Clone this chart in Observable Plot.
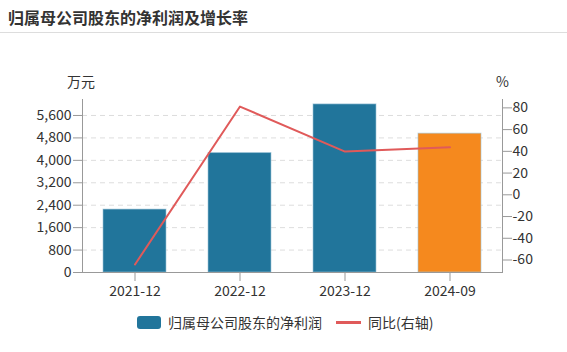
<!DOCTYPE html>
<html><head><meta charset="utf-8">
<script src="https://cdn.jsdelivr.net/npm/d3@7"></script>
<script src="https://cdn.jsdelivr.net/npm/@observablehq/plot@0.6"></script>
<style>
body{margin:0;background:#fff;font-family:"Noto Sans CJK SC","Noto Sans",sans-serif;}
#wrap{position:relative;width:567px;height:352px;overflow:hidden;color:#333}
#title{position:absolute;left:8px;top:5px;font-size:16px;font-weight:bold;color:#333;white-space:nowrap;line-height:24px}
#sep{position:absolute;left:0;top:32px;width:567px;height:1px;background:#ddd}
.unit{position:absolute;top:72px;font-size:14px;color:#333;line-height:18px;white-space:nowrap}
#legend{position:absolute;top:313px;left:137px;font-size:14px;color:#333;display:flex;align-items:center;white-space:nowrap;line-height:18px}
.sw{display:inline-block;width:24px;height:13px;border-radius:3px;margin-right:7px}
.ln{display:inline-block;width:25px;height:3px;margin-left:14px;margin-right:7px}
#chart{position:absolute;left:0;top:0}
</style></head>
<body><div id="wrap">
<div id="chart"></div>
<div id="title">归属母公司股东的净利润及增长率</div>
<div id="sep"></div>
<div class="unit" id="u1" style="left:67px">万元</div>
<div class="unit" id="u2" style="left:496px">%</div>
<div id="legend"><span class="sw" style="background:#21759b"></span><span>归属母公司股东的净利润</span><span class="ln" style="background:#e05a5a"></span><span>同比(右轴)</span></div>
</div>
<script>
const categories = ["2021-12", "2022-12", "2023-12", "2024-09"];
const profit = [2244, 4260, 5995, 4951];
const growth = [-64.1, 81.2, 39.8, 43.8];
const barColors = ["#21759b", "#21759b", "#21759b", "#f5891e"];
const leftTicks = [0, 800, 1600, 2400, 3200, 4000, 4800, 5600];
const rightTicks = [-60, -40, -20, 0, 20, 40, 60, 80];

const yMax = 6170, pMin = -71.5, pMax = 87.7;
const toLeft = p => (p - pMin) / (pMax - pMin) * yMax;
const fromLeft = v => v / yMax * (pMax - pMin) + pMin;

const data = categories.map((c, i) => ({cat: c, profit: profit[i], growth: growth[i], color: barColors[i]}));

const chart = Plot.plot({
  width: 567, height: 352,
  marginLeft: 82, marginRight: 65, marginTop: 99, marginBottom: 80,
  style: {fontFamily: '"Noto Sans CJK SC","Noto Sans",sans-serif', color: "#333", background: "transparent"},
  x: {domain: categories, paddingInner: 0.4, paddingOuter: 0.2, label: null},
  y: {domain: [0, yMax], label: null},
  marks: [
    Plot.gridY(leftTicks.slice(1), {stroke: "#ddd", strokeOpacity: 1, strokeDasharray: "5,4"}),
    Plot.barY(data, {x: "cat", y: "profit", fill: "color", stroke: "#9cc4d8", strokeWidth: 1, strokeOpacity: 0.6}),
    Plot.line(data, {x: "cat", y: d => toLeft(d.growth), stroke: "#e05a5a", strokeWidth: 2}),
    Plot.frame({anchor: "left", stroke: "#999"}),
    Plot.frame({anchor: "right", stroke: "#999"}),
    Plot.frame({anchor: "bottom", stroke: "#999"}),
    Plot.axisY(leftTicks, {anchor: "left", tickSize: 9, tickPadding: 2, fontSize: 14, stroke: "#999", fill: "#333", tickFormat: d3.format(","), label: null}),
    Plot.axisY(rightTicks.map(toLeft), {anchor: "right", tickSize: 9, tickPadding: 1, fontSize: 14, stroke: "#999", fill: "#333", tickFormat: v => String(Math.round(fromLeft(v))), label: null}),
    Plot.axisX({tickSize: 9, tickPadding: 5, fontSize: 14, stroke: "#999", fill: "#333", label: null})
  ]
});
document.getElementById("chart").appendChild(chart);
</script>
</body></html>
